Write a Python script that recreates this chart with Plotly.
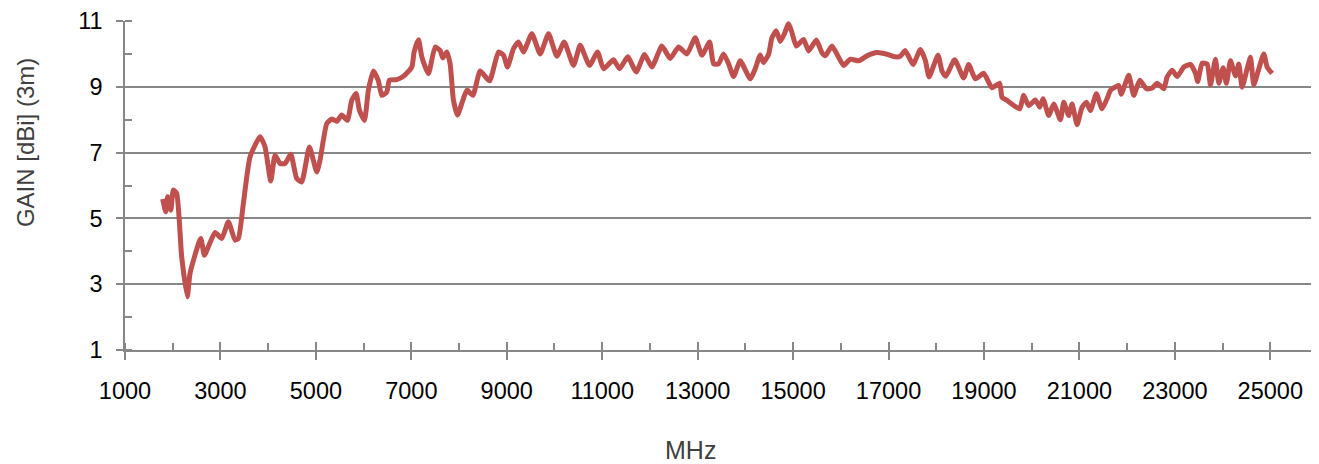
import plotly.graph_objects as go

freq_mhz = [1790, 1853, 1895, 1960, 2013, 2083, 2188, 2306, 2363, 2587, 2663, 2747, 2887, 3027, 3166, 3306, 3376,
            3480, 3620, 3830, 3935, 4054, 4145, 4250, 4355, 4474, 4600, 4704, 4864, 5018, 5088, 5228, 5333, 5437,
            5543, 5661, 5752, 5843, 5912, 6017, 6101, 6205, 6310, 6380, 6485, 6541, 6695, 6835, 7010, 7059, 7150,
            7220, 7359, 7499, 7604, 7660, 7744, 7813, 7883, 7967, 8059, 8164, 8290, 8443, 8638, 8827, 8932, 9015,
            9141, 9246, 9350, 9526, 9700, 9875, 10050, 10203, 10399, 10539, 10734, 10902, 11028, 11237, 11363,
            11538, 11712, 11887, 12041, 12251, 12425, 12600, 12775, 12950, 13090, 13250, 13334, 13440, 13543,
            13648, 13753, 13893, 14103, 14207, 14312, 14380, 14487, 14557, 14648, 14732, 14815, 14906, 14976,
            15067, 15220, 15325, 15487, 15604, 15675, 15815, 15920, 16059, 16199, 16374, 16548, 16758, 16968,
            17142, 17247, 17352, 17513, 17667, 17772, 17850, 18037, 18121, 18200, 18386, 18574, 18679, 18820,
            18994, 19169, 19329, 19378, 19469, 19748, 19832, 19937, 20077, 20168, 20238, 20357, 20462, 20602,
            20672, 20776, 20846, 20951, 21056, 21147, 21231, 21356, 21475, 21594, 21650, 21825, 21874, 22034,
            22139, 22265, 22405, 22524, 22629, 22769, 22839, 22944, 23049, 23188, 23328, 23432, 23480, 23572,
            23677, 23747, 23851, 23921, 24012, 24080, 24166, 24271, 24340, 24410, 24515, 24585, 24655, 24760,
            24864, 24934, 25039]

gain_dbi = [5.59, 5.20, 5.66, 5.25, 5.86, 5.76, 3.83, 2.62, 3.33, 4.39, 3.88, 4.14, 4.57, 4.39, 4.90, 4.34, 4.39,
            5.45, 6.87, 7.48, 7.17, 6.14, 6.92, 6.67, 6.67, 6.95, 6.21, 6.11, 7.17, 6.41, 6.78, 7.88, 8.02, 7.95,
            8.14, 7.98, 8.59, 8.80, 8.29, 7.98, 8.90, 9.48, 9.18, 8.74, 8.84, 9.20, 9.22, 9.32, 9.60, 10.06, 10.43,
            9.91, 9.40, 10.21, 10.10, 9.88, 10.06, 9.70, 8.59, 8.14, 8.50, 8.90, 8.74, 9.48, 9.18, 10.06, 9.96, 9.60,
            10.16, 10.36, 10.06, 10.61, 10.00, 10.61, 9.93, 10.36, 9.65, 10.26, 9.65, 10.06, 9.55, 9.82, 9.55,
            9.91, 9.45, 9.98, 9.60, 10.24, 9.86, 10.21, 10.00, 10.49, 9.96, 10.36, 9.70, 9.70, 10.00,
            9.70, 9.31, 9.79, 9.24, 9.55, 9.97, 9.74, 9.99, 10.49, 10.70, 10.38, 10.60, 10.92, 10.65,
            10.24, 10.44, 10.09, 10.42, 10.04, 9.94, 10.24, 9.99, 9.65, 9.84, 9.79, 9.94, 10.04, 9.99,
            9.91, 9.93, 10.10, 9.68, 10.13, 9.80, 9.30, 9.96, 9.48, 9.32, 9.82, 9.27, 9.68, 9.24,
            9.41, 8.97, 9.11, 8.68, 8.60, 8.33, 8.74, 8.43, 8.60, 8.38, 8.64, 8.13, 8.48, 8.00,
            8.53, 8.13, 8.48, 7.85, 8.38, 8.53, 8.28, 8.79, 8.33, 8.69, 8.89, 9.04, 8.77, 9.35,
            8.74, 9.20, 8.94, 8.96, 9.11, 8.94, 9.30, 9.50, 9.31, 9.60, 9.68, 9.41, 9.16, 9.72,
            9.69, 9.06, 9.84, 9.11, 9.58, 9.11, 9.79, 9.33, 9.69, 8.99, 9.55, 9.90, 9.06, 9.55,
            10.00, 9.60, 9.41]

x_title = "MHz"
y_title = "GAIN [dBi] (3m)"

GRID = "#878787"
FONT = "Liberation Sans"
X_RANGE = [1000, 26000]

fig = go.Figure()
fig.add_trace(go.Scatter(
    x=freq_mhz, y=gain_dbi, mode="lines",
    line=dict(color="#C0504D", width=5, shape="spline", smoothing=0.5),
    showlegend=False, hoverinfo="skip",
))
# invisible helper trace so the overlay axis (inner half of crossing major ticks) is drawn
fig.add_trace(go.Scatter(x=[None], y=[None], xaxis="x2", yaxis="y", mode="lines",
                         showlegend=False, hoverinfo="skip"))

fig.update_layout(
    width=1311, height=456,
    margin=dict(l=117, r=1, t=13, b=114),
    paper_bgcolor="white", plot_bgcolor="white",
    font=dict(family=FONT, color="#000000"),
    xaxis=dict(
        range=X_RANGE, tick0=1000, dtick=2000, tickformat="d",
        showgrid=False, zeroline=False,
        showline=True, linecolor=GRID, linewidth=1.5,
        ticks="outside", ticklen=8, tickwidth=1.5, tickcolor=GRID,
        ticklabelstandoff=11,
        tickfont=dict(size=23.5, family=FONT, color="#000000"),
        minor=dict(dtick=1000, tick0=1000, ticks="inside", ticklen=7, tickwidth=1.5, tickcolor=GRID, showgrid=False),
    ),
    xaxis2=dict(
        overlaying="x", side="bottom", anchor="y",
        range=X_RANGE, tick0=1000, dtick=2000,
        showgrid=False, zeroline=False, showline=False, showticklabels=False,
        ticks="inside", ticklen=8, tickwidth=1.5, tickcolor=GRID,
    ),
    yaxis=dict(
        range=[1, 11], tick0=1, dtick=2, tickformat="d",
        showgrid=True, gridcolor=GRID, gridwidth=1.5,
        zeroline=False,
        showline=True, linecolor=GRID, linewidth=1.5,
        ticks="outside", ticklen=7, tickwidth=1.5, tickcolor=GRID,
        ticklabelstandoff=9,
        tickfont=dict(size=23.5, family=FONT, color="#000000"),
        minor=dict(dtick=1, tick0=1, ticks="inside", ticklen=7, tickwidth=1.5, tickcolor=GRID, showgrid=False),
    ),
    annotations=[
        dict(text=y_title, xref="paper", yref="paper", x=-0.0838, y=0.629,
             xanchor="center", yanchor="middle", textangle=-90, showarrow=False,
             font=dict(size=24, family=FONT, color="#404040")),
        dict(text=x_title, xref="paper", yref="paper", x=0.4736, y=-0.304,
             xanchor="center", yanchor="middle", showarrow=False,
             font=dict(size=25, family=FONT, color="#404040")),
    ],
)

fig.write_html("out.html")
